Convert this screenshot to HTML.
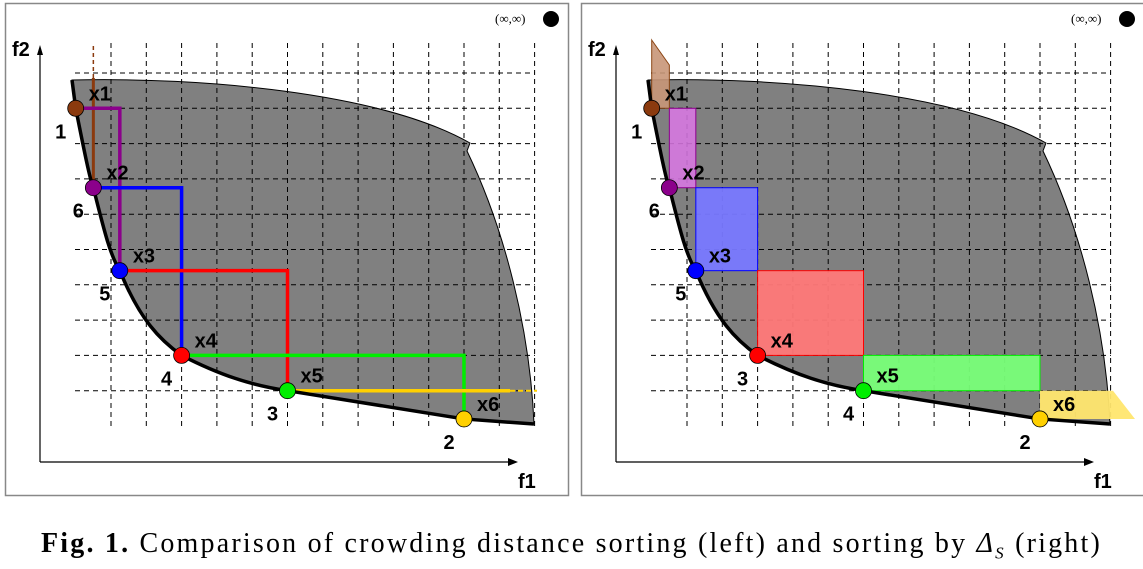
<!DOCTYPE html>
<html><head><meta charset="utf-8"><style>
body{margin:0;background:#fff;width:1143px;height:569px;overflow:hidden}
svg{position:absolute;left:0;top:0}
.lb{font-family:"Liberation Sans",sans-serif;font-weight:bold;font-size:20px}
#cap{position:absolute;left:0;top:528px;width:1143px;text-align:center;font-family:"Liberation Serif",serif;font-size:28px;letter-spacing:2.2px;white-space:nowrap}
</style></head><body>
<svg id="fig" width="1143" height="569"></svg>
<div id="cap"><b>Fig. 1.</b> Comparison of crowding distance sorting (left) and sorting by <i>Δ</i><sub style="font-size:17px"><i>S</i></sub> (right)</div>
<script>
// data in grid units (1 unit = one grid cell)
const ptX = [0, 0.5, 1.25, 3, 6, 11];
const ptY = [1, 3.25, 5.6, 8, 9, 9.8];
const ptColors = ['#8b3a0e','#8b008b','#0000ff','#ff0000','#00ee00','#ffd000'];
const ptNames = ['x1','x2','x3','x4','x5','x6'];
const rankLeft = ['1','6','5','4','3','2'];
const rankRight = ['1','6','5','3','4','2'];

const NS='http://www.w3.org/2000/svg';
const svg=document.getElementById('fig');
const U=35.3, X0=75.7, Y0=73;
function sx(v){return X0+v*U;}
function sy(v){return Y0+v*U;}
function mk(tag,attrs,parent){const e=document.createElementNS(NS,tag);for(const k in attrs)e.setAttribute(k,attrs[k]);(parent||svg).appendChild(e);return e;}

function panel(off,ranks,isRight){
  const g=mk('g',{transform:'translate('+off+',0)'});
  
  
  mk('rect',{x:5.5,y:3.5,width:563,height:492,fill:'#fff',stroke:'#888','stroke-width':1.5},g);
  const pts=ptX.map((v,i)=>[sx(v),sy(ptY[i])]);
  const front='M72,80 L'+pts[0].join(',')+' C84,150 90,180 '+pts[1].join(',')+' C104,230 110,255 '+pts[2].join(',')+' C140,320 160,340 '+pts[3].join(',')+' C220,375 250,385 '+pts[4].join(',')+' C360,402 420,412 '+pts[5].join(',')+' L534,424';
  const region=mk('path',{d:'M72,80 C200,77 380,92 470,143 L467,151 C505,230 530,330 534,424 L'+pts[5].join(',')+' C420,412 360,402 '+pts[4].join(',')+' C250,385 220,375 '+pts[3].join(',')+' C160,340 140,320 '+pts[2].join(',')+' C110,255 104,230 '+pts[1].join(',')+' C90,180 84,150 '+pts[0].join(',')+' Z',fill:'#808080',stroke:'#000','stroke-width':1},g);
  
  
  for(let k=1;k<=13;k++){const x=sx(k);mk('line',{x1:x,y1:43,x2:x,y2:426,stroke:'#000','stroke-width':1,'stroke-dasharray':'5,4'},g);}
  for(let k=0;k<=9;k++){const y=sy(k);mk('line',{x1:75,y1:y,x2:535,y2:y,stroke:'#000','stroke-width':1,'stroke-dasharray':'5,4'},g);}
  const ax=mk('path',{d:'M40,462 L512,462 M40,462 L40,52',stroke:'#000','stroke-width':1.2,fill:'none'},g);
  
  
  mk('path',{d:'M518,462 L508,458 L508,466 Z M40,45 L37,55 L43,55 Z',fill:'#000'},g);
  const t1=mk('text',{x:518,y:488,class:'lb'},g);t1.textContent='f1';
  
  
  const t2=mk('text',{x:12,y:56,class:'lb'},g);t2.textContent='f2';
  
  
  const inf=mk('text',{x:495,y:23,'font-family':'Liberation Serif,serif','font-size':13},g);inf.textContent='(∞,∞)';
  
  
  mk('circle',{cx:551,cy:19,r:8,fill:'#000'},g);
  if(!isRight){
    const seg=(i,col)=>{const a=pts[i-1],b=pts[i+1];
      const p=mk('path',{d:'M'+a[0]+','+a[1]+' L'+b[0]+','+a[1]+' L'+b[0]+','+b[1],stroke:col,'stroke-width':3.5,fill:'none'},g);
      
      };
    const bx=pts[1][0];
    const br=mk('path',{d:'M'+bx+','+pts[1][1]+' L'+bx+',78',stroke:ptColors[0],'stroke-width':3,fill:'none'},g);
    
    
    mk('path',{d:'M'+bx+',78 L'+bx+',43',stroke:ptColors[0],'stroke-width':1.5,'stroke-dasharray':'4,3'},g);
    for(let i=1;i<5;i++)seg(i,ptColors[i]);
    const yl=mk('path',{d:'M'+pts[4][0]+','+pts[4][1]+' L510,'+pts[4][1],stroke:ptColors[5],'stroke-width':3.5},g);
    
    
    mk('path',{d:'M510,'+pts[4][1]+' L537,'+pts[4][1],stroke:ptColors[5],'stroke-width':2,'stroke-dasharray':'5,3'},g);
  } else {
    const fills=['rgba(200,150,120,0.9)','rgba(220,120,230,0.85)','rgba(120,120,255,0.95)','rgba(255,120,120,0.95)','rgba(120,255,120,0.95)','rgba(255,230,110,0.95)'];
    const br=mk('path',{d:'M'+pts[0][0]+',40 L'+pts[1][0]+',65 L'+pts[1][0]+','+pts[0][1]+' L'+pts[0][0]+','+pts[0][1]+' Z',fill:fills[0],stroke:'#8b4513'},g);
    
    
    for(let i=1;i<5;i++){const a=pts[i-1],b=pts[i],c=pts[i+1];
      const r=mk('rect',{x:b[0],y:a[1],width:c[0]-b[0],height:b[1]-a[1],fill:fills[i],stroke:ptColors[i],'stroke-width':1},g);
      
      }
    const y6=mk('path',{d:'M'+pts[5][0]+','+pts[4][1]+' L537,'+pts[4][1]+' L559,'+pts[5][1]+' L'+pts[5][0]+','+pts[5][1]+' Z',fill:fills[5]},g);
    
    
  }
  const fr=mk('path',{d:front,stroke:'#000','stroke-width':3.5,fill:'none'},g);
  
  
  pts.forEach((p,i)=>{
    const c=mk('circle',{cx:p[0],cy:p[1],r:8,fill:ptColors[i],stroke:'#000','stroke-width':0.8},g);
    
    
    const t=mk('text',{x:p[0]+13,y:p[1]-8,class:'lb'},g);t.textContent=ptNames[i];
    
    
    const r=mk('text',{x:p[0]-15,y:p[1]+30,class:'lb','text-anchor':'middle'},g);r.textContent=ranks[i];
    
    
  });
}
panel(0,rankLeft,false);
panel(576,rankRight,true);
</script>
</body></html>
